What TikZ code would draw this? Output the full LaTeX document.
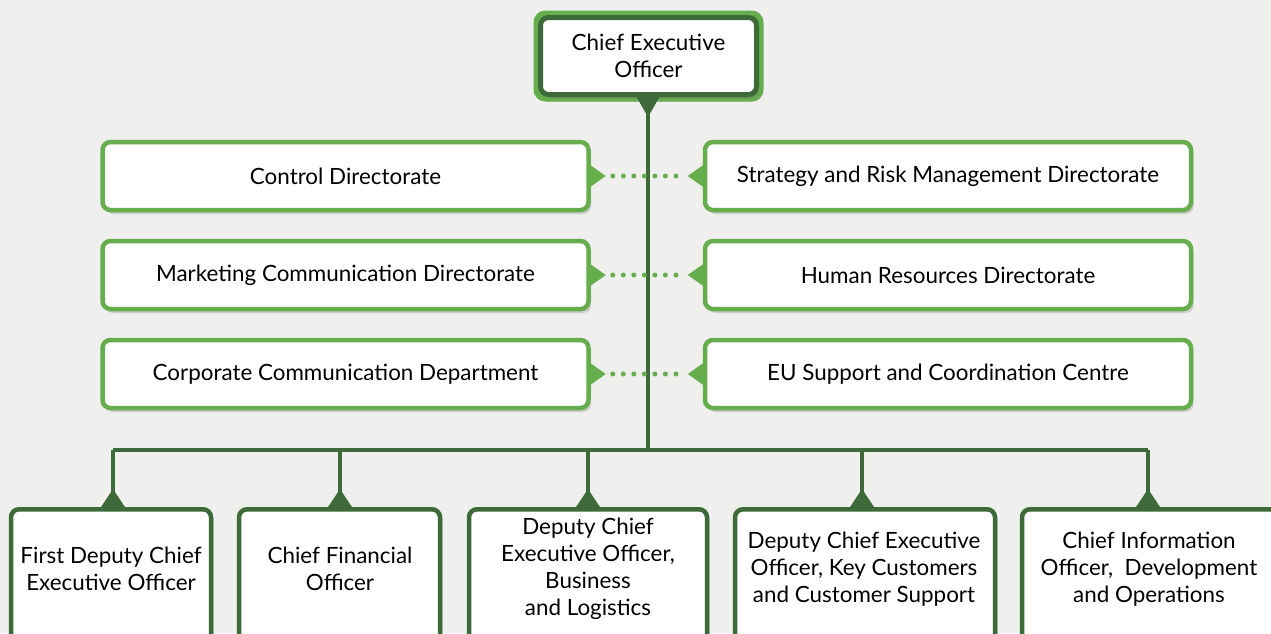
\documentclass[tikz,border=0pt]{standalone}
\usepackage{fontspec}
\setmainfont{Lato}
\usetikzlibrary{shadows,calc}
\definecolor{bg}{HTML}{EFEFED}
\definecolor{dkg}{HTML}{3E6A39}
\definecolor{ltg}{HTML}{66AD4E}
\tikzset{
  txt/.style={font=\fontsize{16.8}{20.3}\selectfont, align=center},
  box/.style={draw, fill=white, line width=4.5pt*0.75, rounded corners=6pt, inner sep=0pt, txt,
     drop shadow={shadow xshift=2pt, shadow yshift=-3pt, opacity=0.25, fill=black!60}},
  midbox/.style={box, draw=ltg},
  lowbox/.style={box, draw=dkg},
  link/.style={draw=dkg, line width=4pt*0.75},
  dots/.style={draw=ltg, line width=5pt*0.75, line cap=round, dash pattern=on 0pt off 7.9pt},
}
\begin{document}
\begin{tikzpicture}[x=0.75pt,y=-0.75pt]
\useasboundingbox (0,0) rectangle (1271,633);
\clip (0,0) rectangle (1271,633);
\fill[bg] (0,0) rectangle (1271,633);
% main trunk
\coordinate (bus0) at (648,450);
\draw[link] (648,100) -- (bus0);
\draw[link] (113,450) -- (1148,450);
% CEO
\node[box, draw=ltg, line width=8pt*0.75, minimum width=222*0.75pt, minimum height=83*0.75pt] (ceo) at (648.5,56) {};
\node[box, draw=dkg, line width=5pt*0.75, minimum width=216*0.75pt, minimum height=77*0.75pt, drop shadow={opacity=0}] (ceoin) at (648.5,56) {Chief Executive\\Officer};
\fill[dkg] (636,96) -- (660,96) -- (648,117) -- cycle;
% middle rows
\foreach \y/\l/\r/\n in {176/{Control Directorate}/{Strategy and Risk Management Directorate}/a,
                          275/{Marketing Communication Directorate}/{Human Resources Directorate}/b,
                          374/{Corporate Communication Department}/{EU Support and Coordination Centre}/c}{
  \node[midbox, minimum width=486*0.75pt, minimum height=68*0.75pt] (L\n) at (345.5,\y) {\l};
  \node[midbox, minimum width=486*0.75pt, minimum height=68*0.75pt] (R\n) at (948,\y) {\r};
  \fill[ltg] ($(L\n.east)+(-2,-12)$) -- ($(L\n.east)+(15,0)$) -- ($(L\n.east)+(-2,12)$) -- cycle;
  \fill[ltg] ($(R\n.west)+(2,-12)$) -- ($(R\n.west)+(-15,0)$) -- ($(R\n.west)+(2,12)$) -- cycle;
  \path[dots] ($(L\n.east)+(22,0)$) -- ($(R\n.west)+(-22,0)$);
}
% bottom row
\foreach \x/\w/\n in {111/200/1, 339.5/201/2, 588/238/3, 865/260/4, 1150/256/5}{
  \node[lowbox, minimum width=\w*0.75pt, minimum height=150*0.75pt, anchor=north] (B\n) at (\x,507) {};
}
\foreach \x/\n in {113/1,340/2,588/3,862/4,1148/5}{
  \coordinate (d\n) at (\x,450);
  \draw[link] (d\n) -- (\x,495);
  \fill[dkg] (\x-12,507) -- (\x,489) -- (\x+12,507) -- cycle;
}
\node[txt] (T1) at (111,569) {First Deputy Chief\\Executive Officer};
\node[txt] (T2) at (340,569) {Chief Financial\\Officer};
\node[txt] (T3) at (588,569) {Deputy Chief\\Executive Officer,\\Business\\and Logistics};
\node[txt] (T4) at (864,569) {Deputy Chief Executive\\Officer, Key Customers\\and Customer Support};
\node[txt] (T5) at (1149,569) {Chief Information\\Officer,\ \ Development\\and Operations};
\end{tikzpicture}
\end{document}
